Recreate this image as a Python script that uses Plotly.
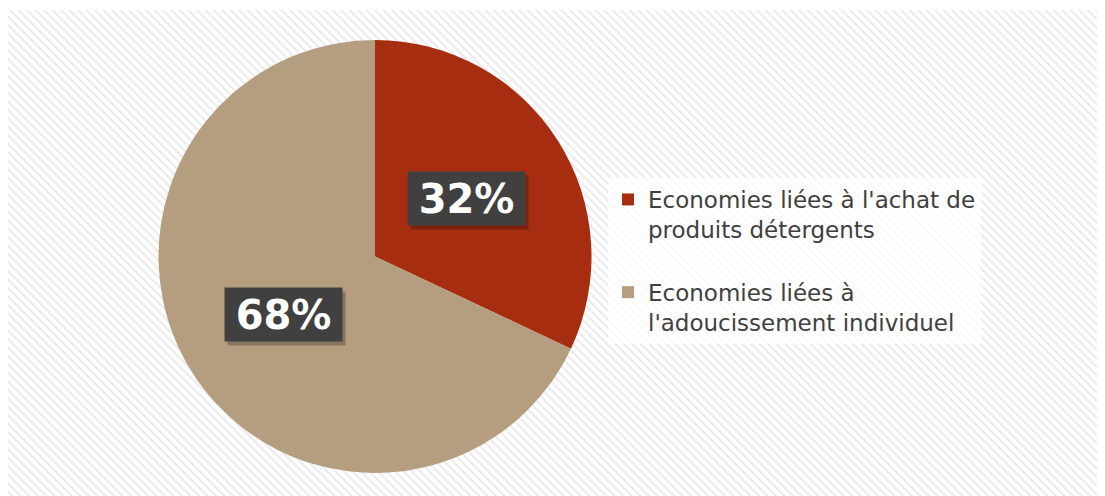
import math
import plotly.graph_objects as go

labels = ["Economies liées à l'achat de<br>produits détergents<br> ",
          "Economies liées à<br>l'adoucissement individuel"]
values = [32, 68]
colors = ["#A62D10", "#B49E7F"]
text_labels = ["32%", "68%"]

W, H = 1105, 496
cx_px, cy_px, r_px = 367, 248.5, 216.5

fig = go.Figure()

# hatched background
fig.add_trace(go.Scatter(
    x=[0, W, W, 0, 0], y=[0, 0, H - 2, H - 2, 0],
    mode="lines", line=dict(width=0), fill="toself",
    fillcolor="white",
    fillpattern=dict(shape="\\", fgcolor="#d6d6d6", bgcolor="white", size=6, solidity=0.35),
    hoverinfo="skip", showlegend=False,
))

fig.add_trace(go.Pie(
    labels=labels, values=values, sort=False, direction="clockwise", rotation=0,
    marker=dict(colors=colors, line=dict(width=0)),
    textinfo="none", hoverinfo="skip",
    domain=dict(x=[(cx_px - r_px) / W, (cx_px + r_px) / W],
                y=[1 - (cy_px + r_px) / H, 1 - (cy_px - r_px) / H]),
))

total = sum(values)
cum = 0
for v, t in zip(values, text_labels):
    mid = (cum + v / 2) / total * 2 * math.pi
    cum += v
    px = cx_px + 0.5 * r_px * math.sin(mid)
    py = cy_px - 0.5 * r_px * math.cos(mid)
    # shadow
    fig.add_annotation(x=(px + 3) / W, y=1 - (py + 4) / H, xref="paper", yref="paper",
                       xanchor="center", yanchor="middle",
                       text=" ", showarrow=False, width=113, height=49, borderpad=2,
                       bgcolor="rgba(0,0,0,0.25)", font=dict(size=38))
    fig.add_annotation(x=px / W, y=1 - py / H, xref="paper", yref="paper",
                       xanchor="center", yanchor="middle",
                       text="<b>" + t + "</b>", showarrow=False, width=113, height=49,
                       borderpad=2, bgcolor="#404040",
                       font=dict(family="DejaVu Sans", size=40, color="white"))

fig.update_layout(
    width=W, height=H,
    margin=dict(l=0, r=0, t=0, b=0),
    paper_bgcolor="white", plot_bgcolor="rgba(0,0,0,0)",
    xaxis=dict(range=[0, W], visible=False, fixedrange=True),
    yaxis=dict(range=[0, H], visible=False, fixedrange=True),
    showlegend=True,
    legend=dict(x=600 / W, y=1 - 170 / H, xanchor="left", yanchor="top",
                bgcolor="rgba(255,255,255,0.75)", valign="top",
                font=dict(family="DejaVu Sans", size=23, color="#404040"),
                itemclick=False, itemdoubleclick=False),
)

fig.write_html("out.html")
